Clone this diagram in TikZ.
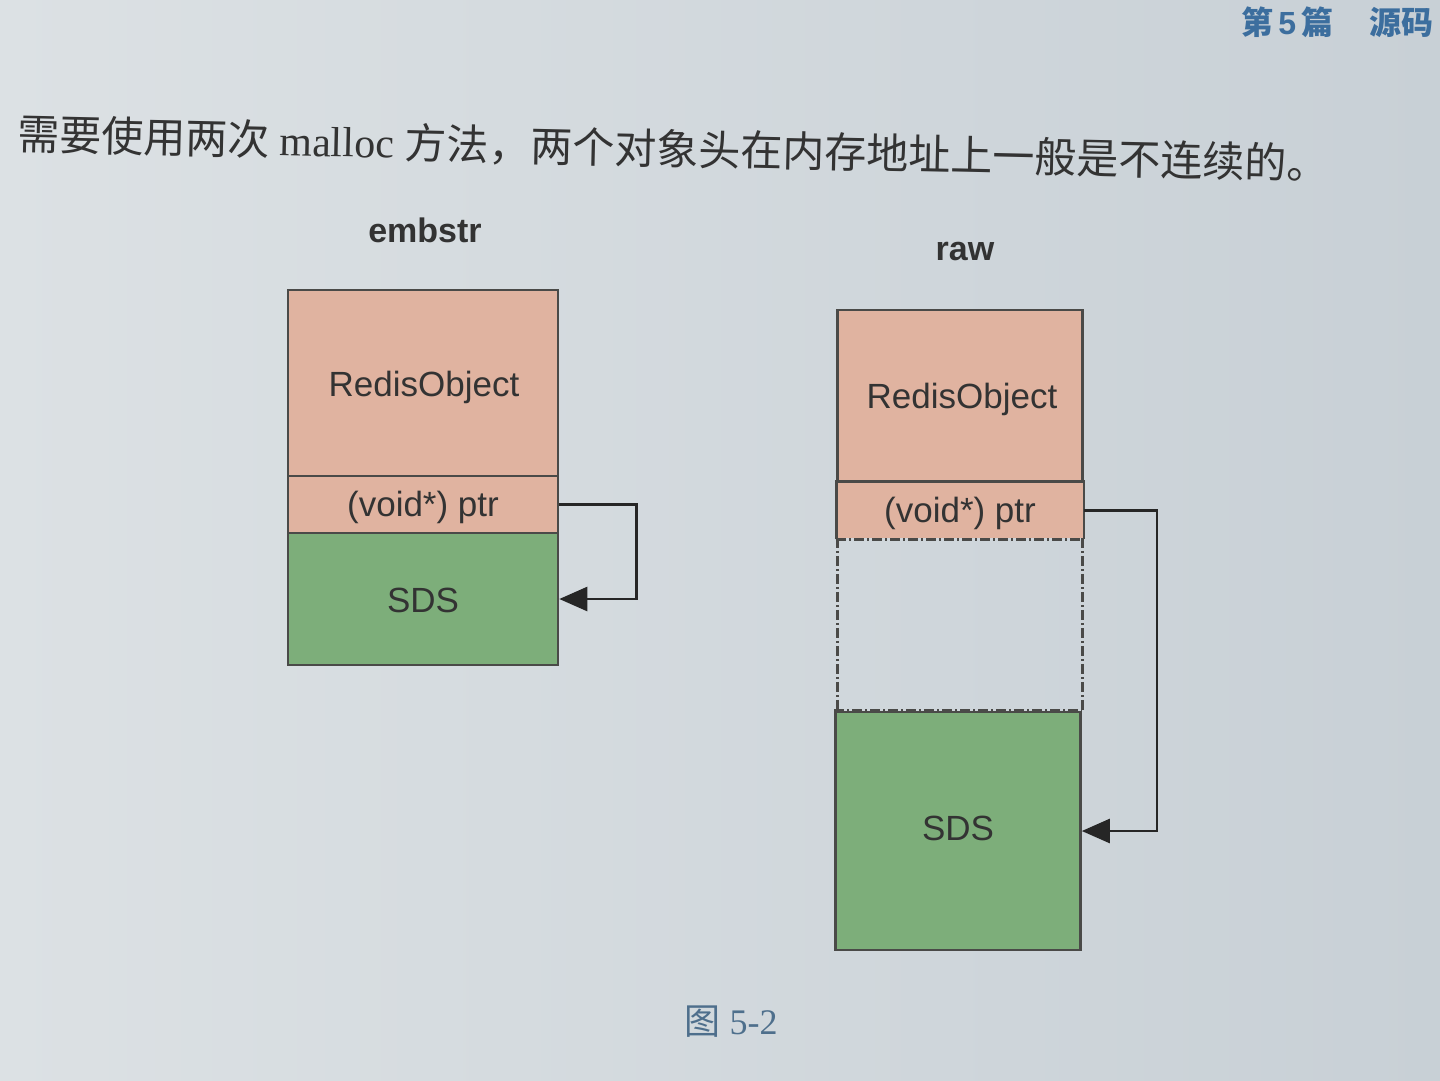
\documentclass[tikz,border=0pt]{standalone}
\usepackage{fontspec}
\setmainfont{Liberation Serif}
\setsansfont{Liberation Sans}
\newfontfamily\cjk{Noto Sans CJK SC}
\usetikzlibrary{arrows.meta}
\definecolor{bgA}{HTML}{DCE1E4}
\definecolor{bgB}{HTML}{C8D0D6}
\definecolor{salmon}{HTML}{E0B3A0}
\definecolor{sdsgreen}{HTML}{7DAE7A}
\definecolor{edge}{HTML}{4A4A48}
\definecolor{headblue}{HTML}{3C6E9E}
\definecolor{capblue}{HTML}{4E6F8C}
\definecolor{txt}{HTML}{333333}
\tikzset{
  cell/.style={draw=edge, line width=2.6pt, inner sep=0pt, font=\sffamily\fontsize{35}{38}\selectfont, text=txt},
  pinkcell/.style={cell, fill=salmon},
  greencell/.style={cell, fill=sdsgreen},
  gapcell/.style={inner sep=0pt},
  lbl/.style={font=\sffamily\fontsize{35}{38}\selectfont, text=txt, inner sep=0pt},
  ptrline/.style={draw=black!85, line width=2.6pt, -{Triangle[length=28pt,width=24pt]}},
  dashline/.style={draw=edge, line width=3pt, dash pattern=on 10pt off 3pt on 2pt off 3pt},
  title/.style={font=\sffamily\bfseries\fontsize{34}{36}\selectfont, text=txt}
}
\begin{document}
\begin{tikzpicture}[x=1pt,y=-1pt]
\useasboundingbox (0,0) rectangle (1440,1080);
\clip (0,0) rectangle (1440,1080);
\shade[left color=bgA, right color=bgB] (0,0) rectangle (1440,1080);
% header
\node[anchor=east, text=headblue, font=\sffamily\bfseries\fontsize{32}{34}\selectfont] (hdr) at (1437,22) {{\cjk\bfseries 第}\,5\,{\cjk\bfseries 篇}\hspace{36pt}{\cjk 源码}};
% top sentence
\node[anchor=west, rotate=-1.3, text=black!80, font=\fontsize{42}{46}\selectfont] (sent) at (14,134) {{\cjk 需要使用两次} malloc {\cjk 方法，两个对象头在内存地址上一般是不连续的。}};
% embstr
\node[title] (t1) at (425,230) {embstr};
\node[pinkcell, minimum width=270pt, minimum height=186pt] (ro1) at (423,383) {};
\node[pinkcell, minimum width=270pt, minimum height=57pt] (ptr1) at (423,504.5) {};
\node[greencell, minimum width=270pt, minimum height=132pt] (sds1) at (423,599) {};
\node[lbl] (ro1l) at (424,387) {RedisObject};
\node[lbl] (ptr1l) at (423,507) {(void*) ptr};
\node[lbl] (sds1l) at (423,600) {SDS};
\draw[ptrline] (ptr1.east) -- ++(77,0) |- (sds1.east);
% raw
\node[title] (t2) at (965,252) {raw};
\node[pinkcell, minimum width=245pt, minimum height=173pt] (ro2) at (960,396.5) {};
\node[cell, draw=none, fill=salmon, minimum width=245pt, minimum height=55pt] (ptr2) at (960,510.5) {};
\draw[draw=edge, line width=2.6pt] (ptr2.south west) -- (ptr2.north west) -- (ptr2.north east) -- (ptr2.south east);
\node[gapcell, minimum width=245pt, minimum height=174pt] (gap) at (960,625) {};
\node[greencell, minimum width=245pt, minimum height=238pt] (sds2) at (958,831) {};
\node[lbl] (ro2l) at (962,399) {RedisObject};
\node[lbl] (ptr2l) at (960,513) {(void*) ptr};
\node[lbl] (sds2l) at (958,828) {SDS};
\draw[dashline] (ptr2.south west) -- (ptr2.south east);
\draw[dashline] (gap.north west) -- (gap.south west);
\draw[dashline] (gap.north east) -- (gap.south east);
\draw[dashline] (sds2.north west) -- (sds2.north east);
\draw[ptrline] (ptr2.east) -- ++(73,0) |- (sds2.east);
% caption
\node[text=capblue, font=\fontsize{36}{40}\selectfont] (cap) at (731,1022) {{\cjk 图} 5-2};
\end{tikzpicture}
\end{document}
